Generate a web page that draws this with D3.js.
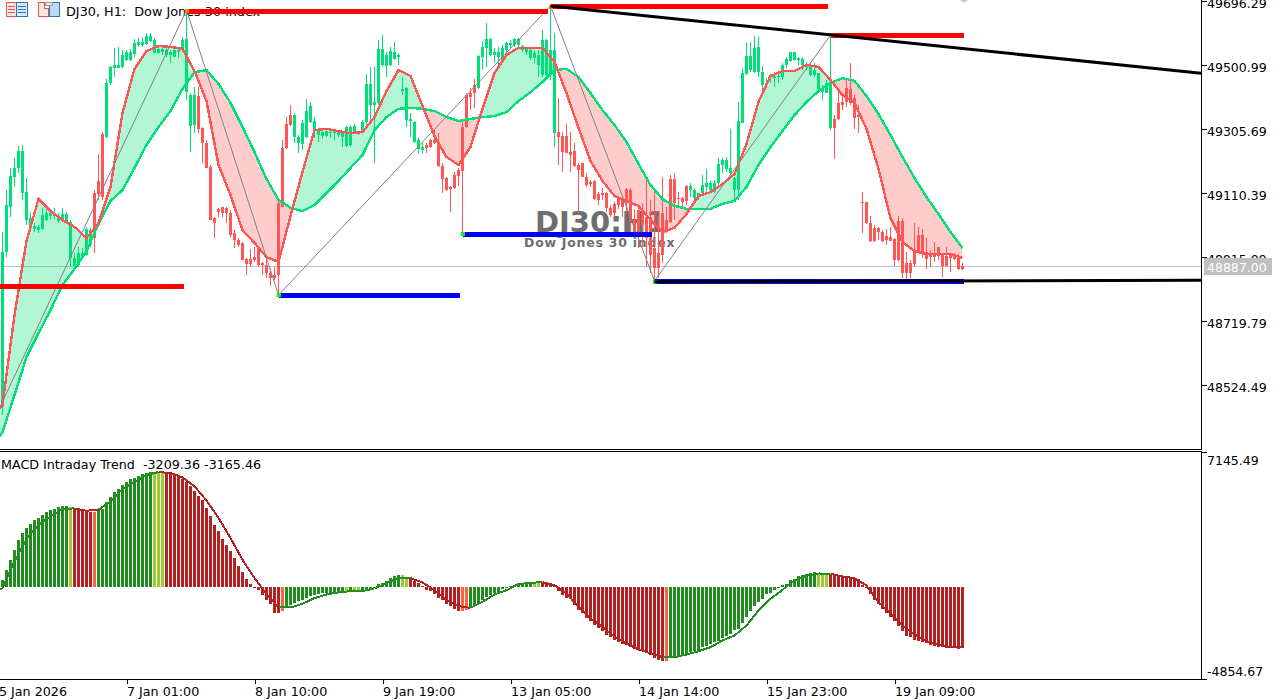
<!DOCTYPE html>
<html>
<head>
<meta charset="utf-8">
<script src="https://cdn.jsdelivr.net/npm/d3@7"></script>
<style>
html,body{margin:0;padding:0;background:#fff;overflow:hidden}
svg{display:block}
text{font-family:"DejaVu Sans",sans-serif}
</style>
</head>
<body>
<svg id="c" width="1285" height="700"></svg>
<script>
const candleOpen = [48458,48930,49068,49159,49187,49110,49028,49004,49001,48997,
49001,49028,49040,49040,49025,49025,49025,48912,48888,48891,
48915,48921,48952,49110,49147,49290,49281,49446,49492,49492,
49495,49516,49516,49534,49562,49562,49565,49574,49537,49537,
49540,49531,49531,49525,49540,49547,49418,49315,49318,49406,
49309,49263,49190,49034,49062,49068,49065,49049,48988,48967,
48958,48909,48909,48915,48943,48897,48891,48866,48860,49080,
49248,49321,49348,49281,49263,49260,49281,49327,49306,49287,
49284,49284,49293,49293,49287,49281,49254,49257,49293,49290,
49296,49327,49379,49379,49385,49501,49498,49501,49519,49525,
49421,49333,49330,49266,49245,49242,49257,49272,49272,49263,
49193,49156,49129,49165,49181,49312,49409,49415,49440,49431,
49525,49553,49531,49531,49525,49516,49547,49562,49562,49562,
49547,49540,49522,49522,49501,49470,49470,49470,49293,49296,
49284,49284,49235,49238,49196,49202,49159,49144,49147,49107,
49110,49110,49065,49077,49092,49095,49123,49120,49028,49058,
49058,49037,49037,48943,48927,49049,49028,49153,49153,49095,
49095,49132,49120,49095,49098,49110,49129,49120,49113,49141,
49196,49184,49171,49120,49120,49324,49473,49485,49479,49479,
49440,49440,49464,49461,49464,49464,49501,49513,49516,49516,
49501,49498,49470,49470,49428,49418,49415,49309,49336,49385,
49388,49431,49428,49400,49348,49083,49083,49019,49004,49004,
48991,48979,48976,48970,49025,49025,48897,48897,48930,48982,
48982,48930,48927,48924,48946,48924,48918,48921,48921,48915,48888];

const candleClose = [48930,49074,49162,49187,49238,49238,49113,49034,49010,49007,
49043,49049,49049,49049,49037,49046,49046,49022,48912,48927,
48927,49001,48997,48973,49107,49098,49446,49495,49501,49501,
49531,49540,49540,49568,49571,49571,49589,49589,49577,49550,
49550,49547,49540,49547,49547,49577,49580,49409,49409,49306,
49263,49187,49028,49019,49052,49049,49049,48982,48967,48952,
48906,48894,48894,48906,48891,48891,48866,48851,48851,48860,
49068,49248,49318,49348,49281,49324,49360,49376,49330,49299,
49296,49299,49296,49299,49296,49293,49312,49312,49315,49296,
49327,49443,49443,49388,49550,49550,49531,49543,49540,49531,
49428,49431,49336,49327,49272,49251,49248,49251,49263,49193,
49153,49120,49123,49126,49162,49177,49312,49403,49415,49528,
49556,49580,49580,49540,49540,49553,49568,49568,49580,49580,
49559,49553,49547,49537,49531,49577,49577,49547,49547,49281,
49235,49232,49226,49193,49181,49159,49135,49138,49092,49089,
49104,49065,49043,49049,49074,49068,49080,49028,48991,48988,
49013,48973,48921,48882,48882,48921,48997,49022,49080,49092,
49083,49086,49132,49120,49110,49135,49141,49141,49141,49199,
49211,49211,49187,49156,49330,49476,49528,49528,49553,49556,
49479,49446,49467,49467,49467,49501,49519,49540,49540,49522,
49519,49501,49501,49485,49476,49431,49446,49446,49309,49336,
49379,49388,49385,49339,49342,49080,49019,48964,48964,48991,
48964,48967,48964,48906,48906,48866,48866,48866,48894,48927,
48927,48909,48915,48915,48918,48888,48888,48912,48909,48879,48879];

const candleHigh = [48991,49120,49187,49217,49254,49257,49156,49052,49019,49013,
49065,49065,49058,49065,49049,49065,49052,49028,48927,48946,
48943,49007,49004,49120,49229,49296,49458,49498,49553,49556,
49547,49547,49550,49580,49583,49586,49598,49598,49583,49556,
49556,49553,49547,49553,49556,49586,49665,49415,49434,49434,
49312,49272,49196,49037,49065,49068,49068,49058,48997,48973,
48961,48912,48940,48946,48946,48900,48912,48882,48885,49089,
49272,49342,49379,49354,49287,49333,49397,49388,49342,49309,
49309,49309,49306,49302,49302,49296,49315,49318,49321,49299,
49333,49473,49495,49495,49577,49592,49540,49556,49571,49537,
49464,49434,49354,49330,49278,49263,49263,49275,49302,49293,
49202,49159,49132,49174,49187,49327,49415,49431,49458,49531,
49574,49629,49583,49553,49556,49562,49571,49577,49583,49583,
49562,49556,49553,49547,49547,49608,49580,49681,49598,49400,
49296,49321,49296,49263,49202,49202,49171,49150,49150,49113,
49126,49113,49074,49083,49095,49098,49126,49126,49062,49065,
49080,49150,49089,49120,49037,49159,49068,49165,49171,49113,
49098,49135,49141,49126,49110,49165,49184,49150,49150,49217,
49217,49220,49306,49159,49388,49492,49568,49571,49589,49586,
49498,49461,49473,49479,49476,49507,49525,49540,49540,49525,
49525,49510,49507,49507,49476,49440,49455,49592,49348,49431,
49415,49455,49507,49409,49379,49113,49083,49040,49013,49007,
48997,49001,49007,48973,49040,49034,48930,48906,49019,49007,
49001,48973,48936,48961,48946,48927,48946,48924,48927,48924,48897];

const candleLow = [48433,48915,49037,49129,49171,49089,49013,48991,48991,48988,
48997,49025,49028,49031,49019,49022,49022,48885,48882,48885,
48912,48918,48946,48927,49089,49089,49278,49440,49464,49492,
49492,49513,49513,49525,49556,49556,49562,49571,49537,49534,
49531,49525,49507,49525,49522,49540,49394,49235,49293,49293,
49202,49187,49028,48973,49037,49037,49019,48976,48943,48946,
48906,48860,48885,48900,48885,48860,48851,48827,48845,48799,
49068,49245,49315,49263,49232,49242,49278,49324,49278,49266,
49275,49281,49278,49272,49281,49251,49251,49251,49290,49287,
49293,49309,49333,49202,49379,49495,49464,49498,49516,49501,
49409,49312,49281,49263,49229,49232,49232,49248,49260,49190,
49110,49116,49052,49123,49132,48985,49309,49363,49370,49428,
49485,49495,49528,49507,49501,49510,49525,49553,49556,49553,
49540,49531,49516,49507,49464,49464,49455,49455,49251,49196,
49174,49232,49174,49190,49049,49159,49129,49129,49089,49074,
49089,49052,49037,49037,49062,49037,49052,48988,48988,48943,
48946,48885,48866,48842,48851,48897,48988,49019,49028,49068,
49068,49074,49098,49083,49089,49104,49110,49113,49110,49135,
49171,49174,49165,49089,49089,49324,49470,49479,49476,49464,
49409,49434,49446,49434,49446,49455,49492,49510,49516,49501,
49485,49485,49467,49464,49425,49394,49415,49302,49214,49333,
49363,49373,49379,49306,49293,48988,49016,48961,48961,48967,
48961,48952,48964,48888,48903,48851,48848,48851,48885,48927,
48912,48879,48885,48900,48906,48854,48888,48869,48906,48876,48876];

// Bars at which the moving averages and the MACD signal were read
const lineBars = [-1,0,3,6,9,12,15,18,21,24,27,30,33,36,39,42,45,48,51,54,57,60,63,66,69,72,75,78,
81,84,87,90,93,96,99,102,105,108,111,114,117,120,123,126,129,132,135,138,141,144,147,150,153,156,159,
162,165,168,171,174,177,180,183,186,189,192,195,198,201,204,207,210,213,216,219,222,225,228,231,234,237,240];

const fastMA = [48449,48464,48738,48964,49092,49055,49028,49007,48973,49019,49129,49354,49489,49543,49559,49556,49550,49482,49391,49196,49104,48997,48958,48915,48900,
49040,49174,49302,49306,49299,49293,49296,49342,49421,49485,49467,49376,49284,49220,49196,49251,49367,49476,49531,49553,49553,49553,49510,49415,49309,49208,49147,49101,49086,49071,
49028,48991,49004,49046,49101,49113,49138,49168,49260,49388,49467,49482,49482,49501,49495,49455,49409,49385,49306,49184,49034,48961,48933,48924,48924,48924,48912];

const slowMA = [48363,48381,48494,48610,48683,48753,48830,48879,48933,49016,49086,49119,49187,49257,49312,49360,49428,49479,49485,49443,49385,49312,49235,49153,49089,
49065,49055,49074,49110,49147,49187,49226,49302,49342,49367,49370,49367,49360,49342,49330,49336,49342,49345,49357,49391,49418,49449,49485,49489,49464,49415,49363,49318,49266,49199,
49135,49092,49071,49062,49062,49062,49077,49086,49129,49196,49251,49299,49348,49388,49421,49446,49461,49452,49406,49351,49287,49220,49156,49098,49046,48991,48943];

const macdHist = [370,933,1461,1989,2517,2869,3133,3362,3538,3678,
3837,3960,4083,4136,4242,4277,4294,4242,4189,4136,
4083,4030,3978,3995,4066,4136,4523,4770,5034,5192,
5403,5562,5720,5790,5896,6002,6054,6072,6072,6090,
6072,6037,6002,5914,5861,5720,5544,5333,5086,4840,
4594,4206,3749,3309,2957,2570,2253,1901,1549,1109,
792,440,176,18,-123,-405,-651,-862,-1355,-1355,
-1267,-1038,-915,-827,-739,-651,-581,-475,-422,-334,
-317,-317,-282,-282,-246,-229,-211,-194,-176,-176,
-176,-176,-141,-53,158,246,352,475,598,634,
651,493,510,317,211,70,-123,-194,-334,-546,
-651,-880,-986,-1126,-1250,-1250,-1197,-1074,-986,-845,
-669,-528,-405,-317,-229,-106,-53,53,123,211,
211,246,264,264,264,299,246,211,123,-176,
-405,-581,-616,-933,-1197,-1373,-1602,-1760,-1954,-2130,
-2306,-2482,-2605,-2781,-2869,-2957,-3045,-3133,-3221,-3309,
-3326,-3450,-3555,-3714,-3819,-3854,-3854,-3714,-3678,-3608,
-3590,-3502,-3397,-3326,-3274,-3150,-3062,-2974,-2886,-2798,
-2658,-2534,-2446,-2270,-2182,-1883,-1566,-1250,-986,-774,
-598,-334,-299,-123,-18,141,194,370,458,581,
669,722,774,827,739,739,722,722,634,581,
546,528,528,475,458,106,18,-334,-651,-898,
-1126,-1338,-1566,-1795,-2024,-2306,-2534,-2622,-2746,-2798,
-2886,-2939,-3027,-3062,-3115,-3150,-3203,-3203,-3203,-3221,-3209.36];

const macdSignal = [-158,-35,1373,2552,3309,3749,4136,4171,4048,4101,4541,5192,5562,5931,6090,6037,5808,5333,4594,3661,2605,1461,493,-334,-1056,-1056,-862,-563,
-370,-264,-194,-194,-53,246,493,493,264,-141,-669,-986,-1074,-757,-370,-141,176,246,282,123,-317,-1021,-1637,-2077,-2605,-2957,-3274,
-3467,-3678,-3678,-3538,-3362,-3150,-2798,-2534,-2006,-1214,-598,-123,370,616,739,722,581,493,106,-774,-1390,-2006,-2482,-2834,-3027,-3150,-3165.46];

const histRunLengths = [17,1,5,1,14,3,29,1,15,1,1,2,10,2,13,2,16,2,31,1,37,3,34];
const histRunColors = ["forestgreen","yellowgreen","firebrick","tomato","forestgreen","yellowgreen","firebrick","tomato","forestgreen","yellowgreen","forestgreen","yellowgreen","forestgreen","yellowgreen","firebrick","tomato","forestgreen","yellowgreen","firebrick","tomato","forestgreen","yellowgreen","firebrick"];

const priceTicks = [49696.29,49500.99,49305.69,49110.39,48915.09,48719.79,48524.49];
const macdTicks = [7145.49,-4854.67];
const timeTickBars = [-1,31,63,95,127,159,191,223];
const timeTickLabels = ["5 Jan 2026","7 Jan 01:00","8 Jan 10:00","9 Jan 19:00","13 Jan 05:00","14 Jan 14:00","15 Jan 23:00","19 Jan 09:00"];

const levelFrom = [-2,46,137,207,69,115,163];
const levelTo = [45,136,206,240,114,162,240];
const levelPrice = [48826,49664,49679,49591,48798,48984,48840];
const levelColor = ["#ff0000","#ff0000","#ff0000","#ff0000","#0000ff","#0000ff","#0000ff"];

const trendFrom = [137,163];
const trendTo = [300,300];
const trendPriceFrom = [49681,48840];
const trendPriceTo = [49475,48844];

const zigzagBars = [-1,46,69,137,163,207];
const zigzagPrices = [48448,49668,48799,49681,48842,49592];
const swingHighBars = [46,137,207];
const swingHighPrices = [49664,49679,49591];
const swingLowBars = [69,115,163];
const swingLowPrices = [48798,48984,48840];

const lastPrice = 48887;
const COL_UP = "#00e078", COL_DN = "#ff5555";

const svg = d3.select("#c");
const x = d3.scaleLinear().domain([0,240]).range([2.5,962.5]);
const y = d3.scaleLinear().domain([49699,48479]).range([0,400]);
const yM = d3.scaleLinear().domain([7145.49,-4854.67]).range([452,679.5]);
const bars = d3.range(candleOpen.length);

const defs = svg.append("defs");
defs.append("clipPath").attr("id","paneMain").append("rect").attr("x",0).attr("y",0).attr("width",1201).attr("height",449);
const slowPts = lineBars.map((b,i)=>[x(b),y(slowMA[i])]);
defs.append("clipPath").attr("id","aboveSlow").append("path")
  .attr("d",d3.area().x(d=>d[0]).y0(0).y1(d=>d[1])(slowPts));
defs.append("clipPath").attr("id","belowSlow").append("path")
  .attr("d",d3.area().x(d=>d[0]).y0(d=>d[1]).y1(449)(slowPts));

// header text and icons
const ic = svg.append("g").attr("shape-rendering","crispEdges");
ic.append("rect").attr("x",6.5).attr("y",2.5).attr("width",10).attr("height",14).attr("fill","#fde3e0").attr("stroke","#e0584f");
ic.append("rect").attr("x",16.5).attr("y",2.5).attr("width",11).attr("height",14).attr("fill","#d6ebfa").attr("stroke","#2b74b5");
[6,9,12].forEach(v=>{
  ic.append("rect").attr("x",8).attr("y",v).attr("width",7).attr("height",1).attr("fill","#e0584f");
  ic.append("rect").attr("x",18).attr("y",v).attr("width",8).attr("height",1).attr("fill","#2b74b5");
});
ic.append("path").attr("d","M38.5,2.5H44.5V8.5H48.5V16.5H38.5Z").attr("fill","#fde3e0").attr("stroke","#e0584f");
ic.append("path").attr("d","M49.5,5.5H52.5V2.5H59.5V16.5H49.5Z").attr("fill","#b9dcf6").attr("stroke","#2b74b5");
ic.append("rect").attr("x",45.5).attr("y",2.5).attr("width",7).attr("height",3).attr("fill","#e8e8e8").attr("stroke","#999");
svg.append("text").attr("x",66).attr("y",16).attr("font-size",12.8).attr("fill","#000").style("white-space","pre").text("DJ30, H1:  Dow Jones 30 index");

// current price line (under the translucent clouds)
svg.append("line").attr("x1",0).attr("x2",1201).attr("y1",Math.floor(y(lastPrice))+.5).attr("y2",Math.floor(y(lastPrice))+.5).attr("stroke","#c0c0c0");

// watermark
svg.append("text").attr("x",535).attr("y",232).attr("font-size",29).attr("font-weight","bold").attr("fill","#6e6e6e").text("DJ30:H1");
svg.append("text").attr("x",524).attr("y",247).attr("font-size",12.5).attr("font-weight","bold").attr("letter-spacing",".75").attr("fill","#6e6e6e").text("Dow Jones 30 index");

const main = svg.append("g").attr("clip-path","url(#paneMain)");

// clouds
const band = d3.area().x((d,i)=>x(lineBars[i])).y0((d,i)=>y(slowMA[i])).y1((d,i)=>y(fastMA[i]));
main.append("path").attr("d",band(fastMA)).attr("fill",COL_UP).attr("fill-opacity",.3).attr("clip-path","url(#aboveSlow)");
main.append("path").attr("d",band(fastMA)).attr("fill",COL_DN).attr("fill-opacity",.3).attr("clip-path","url(#belowSlow)");

// candles
const cg = main.append("g").attr("shape-rendering","crispEdges");
cg.selectAll(".w").data(bars).join("rect").attr("class","w")
  .attr("x",i=>x(i)-.5).attr("width",1)
  .attr("y",i=>y(candleHigh[i])).attr("height",i=>Math.max(1,y(candleLow[i])-y(candleHigh[i])))
  .attr("fill",i=>candleClose[i]>=candleOpen[i]?COL_UP:COL_DN);
cg.selectAll(".b").data(bars).join("rect").attr("class","b")
  .attr("x",i=>x(i)-1.5).attr("width",3)
  .attr("y",i=>y(Math.max(candleOpen[i],candleClose[i])))
  .attr("height",i=>Math.max(1,Math.abs(y(candleOpen[i])-y(candleClose[i]))))
  .attr("fill",i=>candleClose[i]>=candleOpen[i]?COL_UP:COL_DN);

// moving averages
const maLine = vals => d3.line().x((d,i)=>x(lineBars[i])).y(d=>y(d))(vals);
main.append("path").attr("d",maLine(slowMA)).attr("fill","none").attr("stroke",COL_UP).attr("stroke-width",2.4).attr("shape-rendering","crispEdges");
main.append("path").attr("d",maLine(fastMA)).attr("fill","none").attr("stroke",COL_DN).attr("stroke-width",2.4).attr("shape-rendering","crispEdges");

// zigzag
main.append("path").attr("d",d3.line().x((d,i)=>x(zigzagBars[i])).y(d=>y(d))(zigzagPrices))
  .attr("fill","none").attr("stroke","#808080").attr("stroke-width",1);

// levels
const lv = main.append("g").attr("shape-rendering","crispEdges");
levelPrice.forEach((p,i)=>{
  lv.append("rect").attr("x",x(levelFrom[i])).attr("width",x(levelTo[i])+1.5-x(levelFrom[i]))
    .attr("y",y(p)-2.5).attr("height",5).attr("fill",levelColor[i]);
});
// trend lines
trendFrom.forEach((b,i)=>{
  main.append("line").attr("x1",x(b)).attr("x2",x(trendTo[i])).attr("y1",y(trendPriceFrom[i])).attr("y2",y(trendPriceTo[i]))
    .attr("stroke","#000").attr("stroke-width",3);
});
// swing markers
swingHighBars.forEach((b,i)=>lv.append("rect").attr("x",x(b)-2).attr("y",y(swingHighPrices[i])-2).attr("width",4).attr("height",4).attr("fill","#ff8000"));
swingLowBars.forEach((b,i)=>lv.append("rect").attr("x",x(b)-2).attr("y",y(swingLowPrices[i])-2).attr("width",4).attr("height",4).attr("fill","#00ff00"));
svg.append("path").attr("d","M960,0H968L964,3Z").attr("fill","#c8c8c8");

// MACD pane
const histColor = [];
histRunLengths.forEach((n,r)=>{for(let k=0;k<n;k++)histColor.push(histRunColors[r]);});
svg.append("g").attr("shape-rendering","crispEdges").selectAll("rect").data(bars).join("rect")
  .attr("x",i=>x(i)-1.5).attr("width",3)
  .attr("y",i=>Math.min(yM(macdHist[i]),yM(0)))
  .attr("height",i=>Math.max(1,Math.abs(yM(macdHist[i])-yM(0))))
  .attr("fill",i=>histColor[i]);
const sg = svg.append("g").attr("fill","none").attr("stroke-width",2).attr("shape-rendering","crispEdges");
for(let k=0;k<macdSignal.length-1;k++){
  const mid = Math.max(0,Math.round((lineBars[k]+lineBars[k+1])/2));
  const c = (histColor[mid]==="firebrick"||histColor[mid]==="tomato")?"firebrick":"forestgreen";
  sg.append("line").attr("x1",x(lineBars[k])).attr("x2",x(lineBars[k+1]))
    .attr("y1",yM(macdSignal[k])).attr("y2",yM(macdSignal[k+1])).attr("stroke",c);
}
svg.append("text").attr("x",1).attr("y",469).attr("font-size",12.7).attr("fill","#000").style("white-space","pre").text("MACD Intraday Trend  -3209.36 -3165.46");

// frame
const fr = svg.append("g").attr("stroke","#000").attr("shape-rendering","crispEdges");
fr.append("line").attr("x1",0).attr("x2",1202).attr("y1",449.5).attr("y2",449.5);
fr.append("line").attr("x1",0).attr("x2",1202).attr("y1",451.5).attr("y2",451.5);
fr.append("line").attr("x1",1201.5).attr("x2",1201.5).attr("y1",0).attr("y2",449);
fr.append("line").attr("x1",1201.5).attr("x2",1201.5).attr("y1",452).attr("y2",679);

// price axis
const ax = d3.axisRight(y).tickValues(priceTicks).tickSize(5).tickPadding(0).tickFormat(d=>d.toFixed(2));
const gA = svg.append("g").attr("transform","translate(1202,0)").call(ax);
gA.select(".domain").remove();
gA.selectAll("text").attr("font-size",12.5).attr("fill","#000").attr("dy","0.5em").style("font-family",'"DejaVu Sans"');
gA.selectAll("line").attr("stroke","#000").attr("shape-rendering","crispEdges");

// price label
svg.append("rect").attr("x",1204).attr("y",258).attr("width",68).attr("height",17).attr("fill","#c0c0c0");
svg.append("text").attr("x",1207).attr("y",271.5).attr("font-size",12.5).attr("fill","#fff").text(lastPrice.toFixed(2));

// MACD axis
const gM = svg.append("g").attr("transform","translate(1202,0)");
macdTicks.forEach((v,i)=>{
  const py = Math.floor(yM(v))+.5;
  gM.append("line").attr("x1",0).attr("x2",5).attr("y1",py).attr("y2",py).attr("stroke","#000").attr("shape-rendering","crispEdges");
  gM.append("text").attr("x",5).attr("y",i===0?py+12:py-4).attr("font-size",12.5).attr("fill","#000").text(v.toFixed(2));
});

// time axis
const xTimes = d3.axisBottom(x).tickValues(timeTickBars).tickSize(5).tickFormat((d,i)=>timeTickLabels[i]);
svg.append("line").attr("x1",0).attr("x2",1206).attr("y1",679.5).attr("y2",679.5).attr("stroke","#000").attr("shape-rendering","crispEdges");
const gT = svg.append("g").attr("transform","translate(0,679)").call(xTimes);
gT.select(".domain").remove();
gT.selectAll("line").attr("stroke","#000").attr("shape-rendering","crispEdges");
gT.selectAll("text").attr("font-size",12.7).attr("fill","#000").attr("text-anchor","start").attr("dy",0).attr("y",17).style("font-family",'"DejaVu Sans"');
</script>
</body>
</html>
